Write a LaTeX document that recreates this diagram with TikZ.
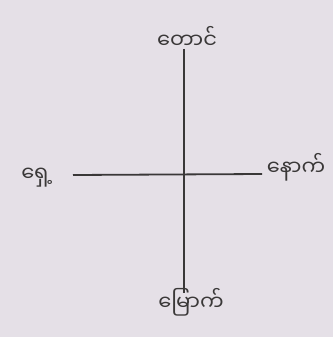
\documentclass[tikz,border=0pt]{standalone}
\usepackage{fontspec}
\newfontfamily\myfont[Script=Myanmar]{Noto Sans Myanmar UI}
\definecolor{paper}{HTML}{E5E0E7}
\definecolor{ink}{HTML}{3A3838}
\tikzset{lbl/.style={font=\myfont\fontsize{21}{24}\selectfont, text=ink, inner sep=0pt},
axis/.style={draw=ink, line width=1.8pt}}
\begin{document}
\begin{tikzpicture}[x=1pt,y=-1pt]
\fill[paper] (0,0) rectangle (333,337);
\useasboundingbox (0,0) rectangle (333,337);
\coordinate (t) at (184,49);
\coordinate (b) at (184,293);
\coordinate (l) at (73,175);
\coordinate (r) at (262,174);
\draw[axis] (t) -- (b);
\draw[axis] (l) -- (r);
\node[lbl] (south) at (187,37) {တောင်};
\node[lbl] (front) at (37,178) {ရှေ့};
\node[lbl] (back) at (296,167) {နောက်};
\node[lbl] (north) at (191,302) {မြောက်};
\end{tikzpicture}
\end{document}
